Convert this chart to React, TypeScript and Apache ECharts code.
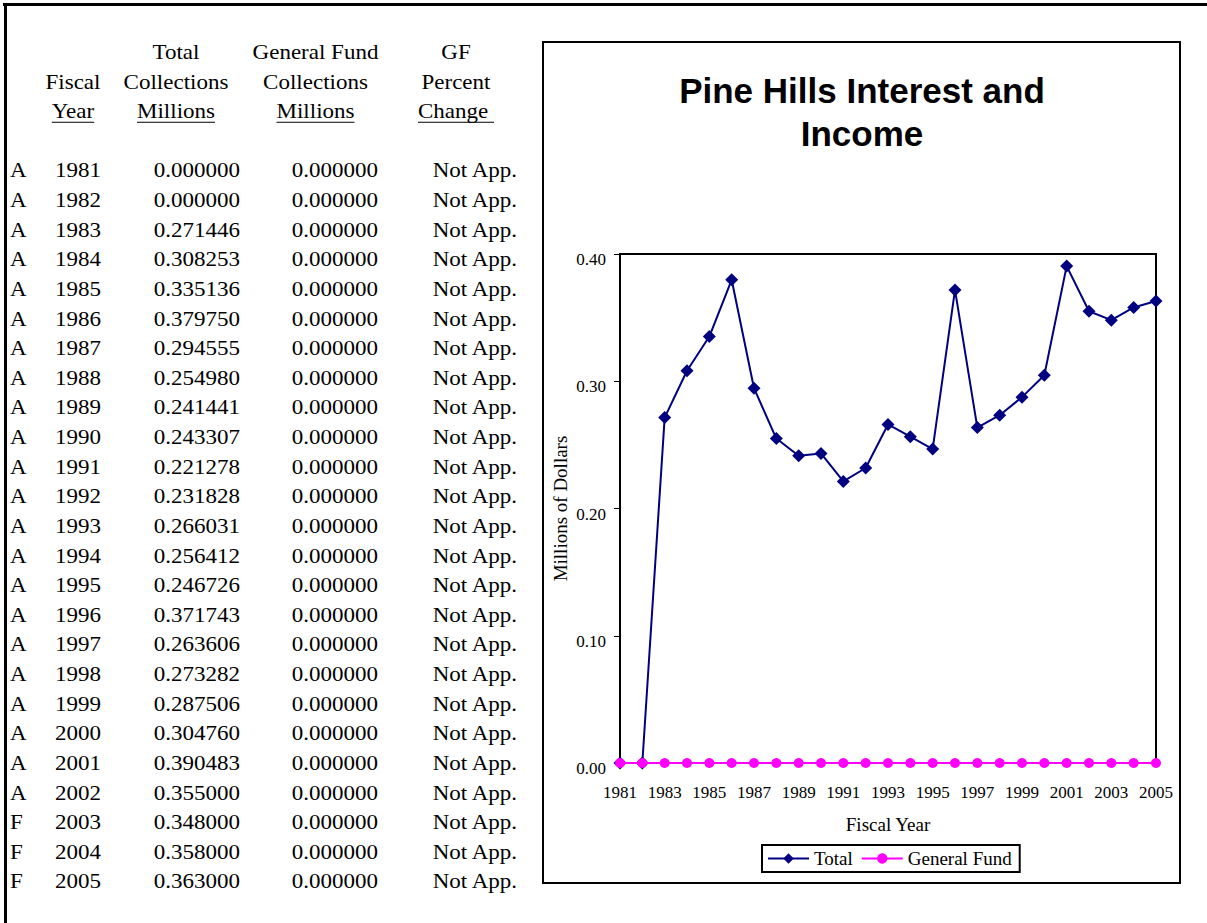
import React, { useEffect, useRef } from 'react';
import * as echarts from 'echarts';

// ---------- data ----------
const years = [
  '1981', '1982', '1983', '1984', '1985', '1986', '1987', '1988', '1989', '1990',
  '1991', '1992', '1993', '1994', '1995', '1996', '1997', '1998', '1999', '2000',
  '2001', '2002', '2003', '2004', '2005',
];
const statusCodes = [
  'A', 'A', 'A', 'A', 'A', 'A', 'A', 'A', 'A', 'A',
  'A', 'A', 'A', 'A', 'A', 'A', 'A', 'A', 'A', 'A',
  'A', 'A', 'F', 'F', 'F',
];
const totalCollections = [
  0.0, 0.0, 0.271446, 0.308253, 0.335136, 0.37975, 0.294555, 0.25498, 0.241441, 0.243307,
  0.221278, 0.231828, 0.266031, 0.256412, 0.246726, 0.371743, 0.263606, 0.273282, 0.287506, 0.30476,
  0.390483, 0.355, 0.348, 0.358, 0.363,
];
const generalFundCollections = [
  0, 0, 0, 0, 0, 0, 0, 0, 0, 0,
  0, 0, 0, 0, 0, 0, 0, 0, 0, 0,
  0, 0, 0, 0, 0,
];
const gfPercentChange = [
  'Not App.', 'Not App.', 'Not App.', 'Not App.', 'Not App.', 'Not App.', 'Not App.', 'Not App.',
  'Not App.', 'Not App.', 'Not App.', 'Not App.', 'Not App.', 'Not App.', 'Not App.', 'Not App.',
  'Not App.', 'Not App.', 'Not App.', 'Not App.', 'Not App.', 'Not App.', 'Not App.', 'Not App.',
  'Not App.',
];
const headerLine1 = ['', 'Total', 'General Fund', 'GF'];
const headerLine2 = ['Fiscal', 'Collections', 'Collections', 'Percent'];
const headerLine3 = ['Year', 'Millions', 'Millions', 'Change '];
const chartTitleLines = ['Pine Hills Interest and', 'Income'];
const seriesNames = ['Total', 'General Fund'];
const xAxisTitle = 'Fiscal Year';
const yAxisTitle = 'Millions of Dollars';

// ---------- styling ----------
const SERIF = '"Liberation Serif", "Times New Roman", Times, serif';
const SANS = '"Liberation Sans", Arial, Helvetica, sans-serif';

function measureText(text: string, font: string): number {
  const ctx = document.createElement('canvas').getContext('2d');
  if (!ctx) return text.length * 10;
  ctx.font = font;
  return ctx.measureText(text).width;
}

export default function App() {
  const ref = useRef<HTMLDivElement>(null);

  useEffect(() => {
    if (!ref.current) return;
    const chart = echarts.init(ref.current, null, { renderer: 'svg' });

    const TF = 20;
    const SX = 1.15;
    const ROW0 = 171;
    const PITCH = 29.62;
    const tableFont = `${TF}px ${SERIF}`;
    const graphics: any[] = [];

    const addText = (text: string, x: number, y: number, align: string) => {
      graphics.push({
        type: 'text',
        x,
        y,
        scaleX: SX,
        silent: true,
        style: {
          text,
          font: tableFont,
          fill: '#000',
          align,
          textAlign: align,
          verticalAlign: 'middle',
          textVerticalAlign: 'middle',
        },
      });
    };

    // page frame
    graphics.push({
      type: 'line',
      silent: true,
      shape: { x1: 3, y1: 4.5, x2: 1207, y2: 4.5 },
      style: { stroke: '#000', lineWidth: 3 },
    });
    graphics.push({
      type: 'line',
      silent: true,
      shape: { x1: 5.5, y1: 3, x2: 5.5, y2: 923 },
      style: { stroke: '#000', lineWidth: 3 },
    });

    // table headers
    const headerCenters = [73, 176, 315.5, 456];
    const headerRows = [headerLine1, headerLine2, headerLine3];
    headerRows.forEach((row, ri) => {
      const y = ROW0 + (ri - 4) * PITCH;
      row.forEach((label, ci) => {
        if (!label) return;
        const w = measureText(label, tableFont) * SX;
        const left = headerCenters[ci] - w / 2;
        addText(label.trimEnd(), left, y, 'left');
        if (ri === 2) {
          graphics.push({
            type: 'line',
            silent: true,
            shape: { x1: left, y1: y + 10.5, x2: left + w, y2: y + 10.5 },
            style: { stroke: '#000', lineWidth: 1 },
          });
        }
      });
    });

    // table rows
    years.forEach((yr, i) => {
      const y = ROW0 + i * PITCH;
      addText(statusCodes[i], 10, y, 'left');
      addText(yr, 55, y, 'left');
      addText(totalCollections[i].toFixed(6), 240, y, 'right');
      addText(generalFundCollections[i].toFixed(6), 378, y, 'right');
      addText(gfPercentChange[i], 517, y, 'right');
    });

    // chart box
    graphics.push({
      type: 'rect',
      silent: true,
      shape: { x: 543, y: 42, width: 637, height: 841 },
      style: { fill: 'none', stroke: '#000', lineWidth: 2 },
    });

    // chart title
    chartTitleLines.forEach((line, i) => {
      graphics.push({
        type: 'text',
        x: 862,
        y: 90 + i * 43,
        silent: true,
        style: {
          text: line,
          font: `bold 35px ${SANS}`,
          fill: '#000',
          align: 'center',
          textAlign: 'center',
          verticalAlign: 'middle',
          textVerticalAlign: 'middle',
        },
      });
    });

    const option: any = {
      animation: false,
      backgroundColor: '#fff',
      textStyle: { fontFamily: SERIF, color: '#000' },
      grid: {
        left: 620,
        top: 254,
        width: 536,
        height: 509,
        show: true,
        borderColor: '#000',
        borderWidth: 2,
        backgroundColor: 'transparent',
        containLabel: false,
      },
      xAxis: {
        type: 'category',
        data: years,
        boundaryGap: false,
        axisLine: { show: true, onZero: true, lineStyle: { color: '#000', width: 1 } },
        axisTick: { show: false },
        axisLabel: {
          interval: 1,
          color: '#000',
          fontSize: 17,
          fontFamily: SERIF,
          margin: 21,
          hideOverlap: false,
        },
        splitLine: { show: false },
        name: xAxisTitle,
        nameLocation: 'middle',
        nameGap: 52,
        nameTextStyle: { color: '#000', fontSize: 19, fontFamily: SERIF },
      },
      yAxis: {
        type: 'value',
        min: 0,
        max: 0.4,
        interval: 0.1,
        axisLine: { show: true, lineStyle: { color: '#000', width: 2 } },
        axisTick: { show: true, inside: false, length: 6, lineStyle: { color: '#000', width: 1 } },
        axisLabel: {
          formatter: (v: number) => v.toFixed(2),
          color: '#000',
          fontSize: 17,
          fontFamily: SERIF,
          margin: 14,
          verticalAlign: 'top',
          lineHeight: 11,
        },
        splitLine: { show: false },
        name: yAxisTitle,
        nameLocation: 'middle',
        nameGap: 50,
        nameTextStyle: { color: '#000', fontSize: 19, fontFamily: SERIF },
      },
      legend: {
        show: true,
        left: 762,
        top: 845,
        orient: 'horizontal',
        borderColor: '#000',
        borderWidth: 2,
        padding: [4, 8, 4, 5],
        itemWidth: 41,
        itemHeight: 13,
        itemGap: 8,
        backgroundColor: '#fff',
        textStyle: { fontSize: 19, color: '#000', fontFamily: SERIF },
        data: seriesNames,
      },
      series: [
        {
          name: seriesNames[0],
          type: 'line',
          data: totalCollections,
          symbol: 'diamond',
          symbolSize: 13,
          showAllSymbol: true,
          clip: false,
          lineStyle: { color: '#000080', width: 2 },
          itemStyle: { color: '#000080' },
          z: 2,
        },
        {
          name: seriesNames[1],
          type: 'line',
          data: generalFundCollections,
          symbol: 'circle',
          symbolSize: 10,
          showAllSymbol: true,
          clip: false,
          lineStyle: { color: '#FF00FF', width: 2 },
          itemStyle: { color: '#FF00FF' },
          z: 3,
        },
      ],
      graphic: graphics,
    };

    chart.setOption(option);
    return () => {
      chart.dispose();
    };
  }, []);

  return (
    <div
      ref={ref}
      style={{ position: 'absolute', left: 0, top: 0, width: 1207, height: 923, background: '#fff' }}
    />
  );
}
